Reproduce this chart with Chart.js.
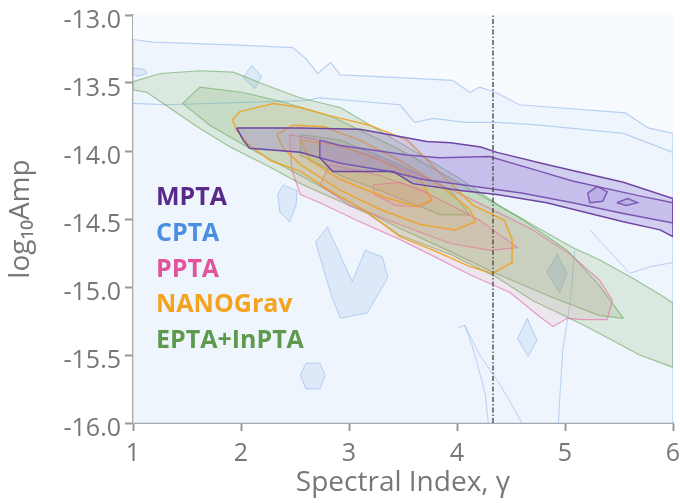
<!DOCTYPE html>
<html>
<head>
  <title>PTA spectral index vs amplitude</title>
  <script src="https://cdn.jsdelivr.net/npm/chart.js"></script>
  <style>
    html, body { margin: 0; padding: 0; background: #fff; }
    #wrap { position: relative; width: 680px; height: 503px; }
  </style>
</head>
<body>
<div id="wrap">
  <canvas id="ptaChart" width="680" height="503"></canvas>
</div>

<script>
  // axis setup
  const xTicks = [1, 2, 3, 4, 5, 6];
  const yTicks = [-16.0, -15.5, -15.0, -14.5, -14.0, -13.5, -13.0];
  const gammaRef = 13 / 3; // dash-dot line

  const names = ['MPTA', 'CPTA', 'PPTA', 'NANOGrav', 'EPTA+InPTA'];
  const nameColors = ['#5a2a8a', '#4a8fe0', '#e0559c', '#f5a31f', '#5e9a4e'];

  // CPTA (outer levels + islands)
  const cptaTop = [[1.00,-13.18],[1.19,-13.20],[1.93,-13.22],[2.48,-13.24],[2.60,-13.32],[2.71,-13.43],[2.83,-13.35],[2.92,-13.44],[3.47,-13.46],[3.96,-13.48],[4.12,-13.57],[4.21,-13.53],[4.36,-13.57],[4.58,-13.66],[5.56,-13.72],[5.77,-13.83],[6.00,-13.87],[6.00,-16.0],[1.00,-16.0]];
  const cptaSecond = [[1.00,-13.65],[1.31,-13.66],[2.60,-13.63],[2.73,-13.61],[3.47,-13.66],[3.61,-13.79],[3.78,-13.76],[4.08,-13.79],[4.21,-13.79],[4.37,-13.79],[4.77,-13.81],[5.54,-13.87],[6.00,-14.01]];
  const cptaV = [[2.69,-14.67],[2.80,-14.56],[3.03,-14.96],[3.15,-14.73],[3.31,-14.78],[3.36,-14.93],[3.17,-15.19],[2.92,-15.23],[2.84,-15.07]];
  const cptaBlob = [[2.39,-14.25],[2.52,-14.29],[2.51,-14.40],[2.45,-14.52],[2.36,-14.45],[2.34,-14.32]];
  const cptaHex = [[2.60,-15.56],[2.73,-15.56],[2.78,-15.65],[2.73,-15.75],[2.60,-15.75],[2.55,-15.65]];
  const cptaDiamondLow = [[4.65,-15.23],[4.74,-15.39],[4.66,-15.51],[4.56,-15.38]];
  const cptaDiamondMid = [[4.93,-14.76],[5.02,-14.90],[4.95,-15.04],[4.83,-14.89]];
  const cptaDiamondTop = [[2.10,-13.37],[2.19,-13.45],[2.13,-13.54],[2.02,-13.46]];
  const cptaEdge = [[1.00,-13.39],[1.11,-13.40],[1.13,-13.43],[1.05,-13.45],[1.00,-13.44]];
  const cptaLineA = [[4.01,-15.30],[4.07,-15.28],[4.14,-15.43],[4.19,-15.57],[4.26,-15.78],[4.29,-16.0]];
  const cptaLineB = [[4.07,-15.28],[4.21,-15.50],[4.40,-15.72],[4.51,-15.87],[4.60,-16.0]];
  const cptaLineC = [[5.09,-14.73],[5.05,-15.10],[4.98,-15.46],[4.95,-15.83],[4.94,-16.0]];
  const cptaLineD = [[5.23,-14.58],[5.60,-14.90],[5.79,-14.85],[6.00,-14.82]];

  // EPTA+InPTA
  const eptaOuter = [[1.00,-13.49],[1.25,-13.43],[1.62,-13.41],[1.93,-13.42],[2.18,-13.50],[2.55,-13.61],[2.92,-13.68],[3.47,-13.94],[4.02,-14.20],[4.39,-14.40],[4.76,-14.57],[5.07,-14.71],[5.32,-14.80],[5.66,-14.95],[5.91,-15.07],[6.00,-15.12],[6.00,-15.59],[5.69,-15.50],[5.48,-15.41],[5.17,-15.28],[4.70,-15.10],[4.37,-14.93],[3.94,-14.76],[3.47,-14.62],[3.17,-14.46],[2.55,-14.24],[2.27,-14.12],[1.90,-13.97],[1.59,-13.82],[1.28,-13.65],[1.13,-13.57],[1.00,-13.55]];
  const eptaMid = [[1.46,-13.65],[1.62,-13.53],[2.02,-13.57],[2.39,-13.64],[2.85,-13.75],[3.47,-13.99],[4.03,-14.24],[4.58,-14.49],[5.02,-14.73],[5.32,-14.99],[5.54,-15.23],[5.32,-15.21],[4.86,-15.07],[4.33,-14.89],[3.94,-14.74],[3.47,-14.57],[3.01,-14.38],[2.55,-14.18],[2.08,-13.98],[1.71,-13.81]];
  const eptaInner = [[2.55,-13.88],[2.92,-13.92],[3.47,-14.10],[3.94,-14.29],[4.12,-14.47],[3.85,-14.47],[3.38,-14.32],[2.92,-14.18],[2.55,-14.03]];

  // PPTA
  const pptaOuter = [[2.45,-13.88],[2.73,-13.92],[3.22,-14.04],[3.75,-14.21],[4.12,-14.35],[4.68,-14.57],[5.05,-14.76],[5.32,-14.95],[5.44,-15.10],[5.39,-15.24],[5.17,-15.24],[5.02,-15.23],[4.89,-15.29],[4.77,-15.22],[4.49,-15.04],[4.12,-14.91],[3.75,-14.76],[3.47,-14.65],[3.10,-14.52],[2.73,-14.38],[2.55,-14.32],[2.47,-14.14]];
  const pptaMid = [[2.82,-14.10],[3.29,-14.18],[3.75,-14.32],[4.21,-14.51],[4.56,-14.71],[4.31,-14.73],[3.94,-14.68],[3.47,-14.54],[3.01,-14.40],[2.73,-14.25]];
  const pptaInner = [[3.22,-14.25],[3.47,-14.23],[3.70,-14.29],[3.77,-14.36],[3.66,-14.41],[3.43,-14.40],[3.24,-14.32]];

  // NANOGrav
  const nanoOuter = [[1.92,-13.77],[1.99,-13.71],[2.30,-13.65],[2.55,-13.68],[2.82,-13.74],[3.19,-13.81],[3.54,-13.92],[3.84,-14.16],[4.15,-14.40],[4.44,-14.51],[4.51,-14.65],[4.51,-14.82],[4.33,-14.90],[4.12,-14.85],[3.78,-14.73],[3.47,-14.63],[3.17,-14.45],[2.82,-14.29],[2.55,-14.15],[2.27,-14.07],[2.08,-13.96],[1.96,-13.85]];
  const nanoMid = [[2.33,-13.88],[2.48,-13.81],[2.76,-13.82],[3.10,-13.92],[3.47,-14.07],[3.84,-14.25],[4.12,-14.43],[4.17,-14.52],[3.98,-14.58],[3.66,-14.54],[3.29,-14.43],[2.92,-14.29],[2.55,-14.10],[2.39,-13.98]];
  const nanoInner = [[2.55,-13.92],[2.92,-13.96],[3.29,-14.07],[3.66,-14.21],[3.77,-14.36],[3.63,-14.41],[3.33,-14.34],[2.92,-14.21],[2.64,-14.07]];

  // MPTA
  const mptaOuter = [[1.96,-13.83],[2.55,-13.83],[3.10,-13.84],[3.38,-13.88],[3.72,-13.93],[3.94,-13.94],[4.22,-13.97],[4.37,-14.01],[4.83,-14.10],[5.54,-14.23],[6.00,-14.35],[6.00,-14.63],[5.88,-14.58],[5.54,-14.52],[4.83,-14.38],[4.37,-14.32],[4.03,-14.29],[3.59,-14.24],[3.41,-14.15],[2.85,-14.15],[2.73,-14.05],[2.55,-14.01],[2.08,-13.98],[2.02,-13.92]];
  const mptaInner = [[2.73,-13.92],[2.92,-13.96],[3.54,-14.03],[3.84,-14.05],[4.30,-14.04],[4.77,-14.15],[5.07,-14.22],[5.69,-14.33],[6.00,-14.38],[6.00,-14.53],[5.54,-14.46],[5.07,-14.38],[4.61,-14.31],[4.15,-14.26],[3.69,-14.21],[3.38,-14.15],[2.92,-14.09],[2.73,-14.05]];
  const mptaLoop1 = [[5.21,-14.31],[5.30,-14.26],[5.39,-14.30],[5.35,-14.37],[5.23,-14.38]];
  const mptaLoop2 = [[5.48,-14.38],[5.58,-14.35],[5.67,-14.38],[5.57,-14.40]];

  function poly(pts, stroke, fill, order, width, closed) {
    const data = pts.map(p => ({x: p[0], y: p[1]}));
    if (closed !== false) data.push({x: pts[0][0], y: pts[0][1]});
    return {
      data: data,
      borderColor: stroke,
      backgroundColor: fill,
      borderWidth: width,
      fill: fill ? 'shape' : false,
      pointRadius: 0,
      tension: 0,
      order: order
    };
  }

  const cptaLine = 'rgba(110,165,230,0.45)';
  const cptaFill = 'rgba(90,150,225,0.12)';
  const eptaLine = 'rgba(95,160,80,0.55)';
  const pptaLine = 'rgba(230,100,160,0.6)';
  const nanoLine = 'rgba(240,160,30,0.85)';
  const mptaLine = '#6e45a3';

  const datasets = [
    // vertical reference
    {
      data: [{x: gammaRef, y: -16}, {x: gammaRef, y: -13}],
      borderColor: '#555',
      borderWidth: 1.5,
      borderDash: [5, 2, 1.5, 2],
      pointRadius: 0,
      fill: false,
      order: 0
    },
    poly(mptaOuter, mptaLine, 'rgba(150,125,215,0.32)', 1, 1.5),
    poly(mptaInner, mptaLine, 'rgba(130,100,205,0.15)', 1, 1.5),
    poly(mptaLoop1, mptaLine, 'rgba(120,90,200,0.15)', 1, 1.5),
    poly(mptaLoop2, mptaLine, 'rgba(120,90,200,0.15)', 1, 1.5),
    poly(nanoOuter, nanoLine, 'rgba(240,170,80,0.08)', 2, 1.5),
    poly(nanoMid, nanoLine, 'rgba(240,170,80,0.08)', 2, 1.5),
    poly(nanoInner, nanoLine, 'rgba(240,170,80,0.08)', 2, 1.5),
    poly(pptaOuter, pptaLine, 'rgba(225,120,150,0.12)', 3, 1.2),
    poly(pptaMid, pptaLine, 'rgba(225,120,150,0.1)', 3, 1.2),
    poly(pptaInner, pptaLine, 'rgba(225,120,150,0.1)', 3, 1.2),
    poly(eptaOuter, eptaLine, 'rgba(120,175,95,0.18)', 4, 1.2),
    poly(eptaMid, eptaLine, 'rgba(110,165,85,0.18)', 4, 1.2),
    poly(eptaInner, eptaLine, 'rgba(110,165,85,0.15)', 4, 1.2),
    poly(cptaTop, cptaLine, 'rgba(90,150,225,0.05)', 6, 1.2),
    poly(cptaSecond, cptaLine, null, 5, 1.2, false),
    poly(cptaV, cptaLine, cptaFill, 5, 1),
    poly(cptaBlob, cptaLine, cptaFill, 5, 1),
    poly(cptaHex, cptaLine, cptaFill, 5, 1),
    poly(cptaDiamondLow, cptaLine, cptaFill, 5, 1),
    poly(cptaDiamondMid, cptaLine, 'rgba(90,150,225,0.2)', 5, 1),
    poly(cptaDiamondTop, cptaLine, cptaFill, 5, 1),
    poly(cptaEdge, cptaLine, cptaFill, 5, 1),
    poly(cptaLineA, cptaLine, null, 5, 1, false),
    poly(cptaLineB, cptaLine, null, 5, 1, false),
    poly(cptaLineC, cptaLine, null, 5, 1, false),
    poly(cptaLineD, cptaLine, null, 5, 1, false)
  ];

  // light plot background + in-plot legend text
  const plotDecor = {
    id: 'plotDecor',
    beforeDatasetsDraw(chart) {
      const a = chart.chartArea;
      const ctx = chart.ctx;
      ctx.save();
      ctx.fillStyle = '#f7fafe';
      ctx.fillRect(a.left, a.top, a.right - a.left, a.bottom - a.top);
      ctx.restore();
    },
    afterDraw(chart) {
      const a = chart.chartArea;
      const ctx = chart.ctx;
      ctx.save();
      ctx.font = 'bold 25px "Open Sans"';
      ctx.textBaseline = 'middle';
      names.forEach((n, i) => {
        ctx.fillStyle = nameColors[i];
        ctx.fillText(n, a.left + 23, a.top + 183 + i * 35.7);
      });
      ctx.restore();
    }
  };

  // keep the plot box fixed: no extra room for overhanging tick labels
  function noPad(s) {
    s.paddingTop = 0; s.paddingBottom = 0; s.paddingLeft = 0; s.paddingRight = 0;
  }

  const tickFont = {family: '"Open Sans"', size: 25};
  const titleFont = {family: '"Open Sans"', size: 28};

  new Chart(document.getElementById('ptaChart'), {
    type: 'line',
    data: {datasets: datasets},
    options: {
      responsive: false,
      animation: false,
      layout: {padding: {top: 15, right: 7, left: 0, bottom: 0}},
      plugins: {legend: {display: false}, tooltip: {enabled: false}},
      scales: {
        x: {
          type: 'linear',
          min: 1, max: 6,
          afterBuildTicks: s => { s.ticks = xTicks.map(v => ({value: v})); },
          afterFit: s => { s.height = 80; noPad(s); },
          ticks: {color: '#777', font: tickFont, padding: 8, maxRotation: 0},
          grid: {drawOnChartArea: false, tickLength: 8, color: '#999', tickWidth: 2},
          border: {color: '#aaa', width: 2},
          title: {display: true, text: 'Spectral Index, γ', color: '#777',
                  font: titleFont, padding: {top: 0, bottom: 3}}
        },
        y: {
          min: -16, max: -13,
          afterBuildTicks: s => { s.ticks = yTicks.map(v => ({value: v})); },
          afterFit: s => { s.width = 133; noPad(s); },
          ticks: {color: '#777', font: tickFont, padding: 4, labelOffset: 6,
                  callback: v => v.toFixed(1)},
          grid: {drawOnChartArea: false, tickLength: 8, color: '#999', tickWidth: 2},
          border: {color: '#aaa', width: 2},
          title: {display: true, text: 'log₁₀Amp', color: '#777',
                  font: titleFont, padding: {top: 4, bottom: 0}}
        }
      }
    },
    plugins: [plotDecor]
  });
</script>
</body>
</html>
